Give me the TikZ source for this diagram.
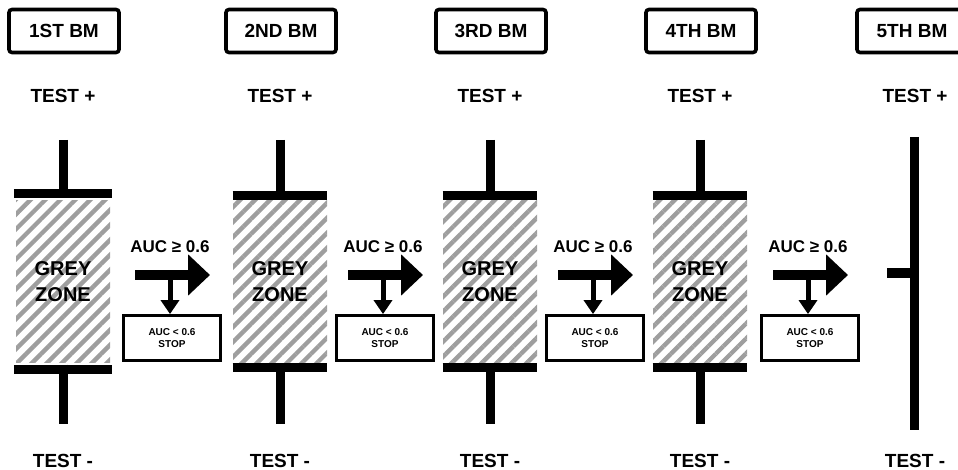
\documentclass[tikz,border=0pt]{standalone}
\usepackage{fontspec}
\setmainfont{Liberation Sans}
\usepackage{tikz}
\usetikzlibrary{arrows.meta,positioning,patterns.meta}

\tikzset{
    bmbox/.style={draw, line width=1.8pt, rounded corners=1.5pt, minimum width=55pt, minimum height=21.5pt, inner sep=0pt, font=\fontsize{9.5}{11}\selectfont\bfseries},
    testlabel/.style={font=\fontsize{9.5}{11}\selectfont\bfseries},
    zone/.style={minimum width=47pt, minimum height=81pt, inner sep=0pt, align=center, font=\fontsize{10}{13}\selectfont\bfseries, pattern={Lines[angle=45,distance=5.3pt,line width=2.2pt]}, pattern color=black!38},
    whisker/.style={line width=4.5pt},
    auclabel/.style={font=\fontsize{8.5}{10}\selectfont\bfseries},
    goarrow/.style={line width=5pt, -{Triangle[length=11pt,width=20pt]}},
    stoparrow/.style={line width=2.5pt, -{Triangle[length=7pt,width=9pt]}},
    stopbox/.style={draw, line width=1.4pt, minimum width=48.5pt, minimum height=22.5pt, inner sep=0pt, align=center, font=\fontsize{5}{6}\selectfont\bfseries}
}

\begin{document}
\begin{tikzpicture}[x=0.5pt, y=-0.5pt]
\useasboundingbox (0,0) rectangle (958,470);
% biomarker columns with grey zone
\foreach \i/\lab/\x/\a in {1/1ST/63/170, 2/2ND/280/383, 3/3RD/490/593, 4/4TH/700/808}{
    \node[bmbox] (bm\i) at (\x+1,31) {\lab\ BM};
    \node[testlabel] (tplus\i) at (\x,96) {TEST +};
    \node[testlabel] (tminus\i) at (\x,461) {TEST -};
    \node[zone] (gz\i) at (\x,281.5) {GREY\\ZONE};
    \coordinate (top\i) at (\x,140);
    \coordinate (bot\i) at (\x,424);
    \draw[whisker] ([yshift=2.25pt]gz\i.north west) -- ([yshift=2.25pt]gz\i.north east);
    \draw[whisker] ([yshift=-2.25pt]gz\i.south west) -- ([yshift=-2.25pt]gz\i.south east);
    \draw[whisker] (top\i) -- (gz\i.north);
    \draw[whisker] (gz\i.south) -- (bot\i);
    % AUC decision
    \node[auclabel] (auc\i) at (\a,247) {AUC ≥ 0.6};
    \coordinate (go\i) at (\a-35,275);
    \coordinate (next\i) at (\a+40,275);
    \coordinate (split\i) at (\a,275);
    \draw[goarrow] (go\i) -- (next\i);
    \node[stopbox] (stop\i) at (\a+2,338) {AUC < 0.6\\STOP};
    \draw[stoparrow] (split\i) -- (split\i |- stop\i.north);
}
% last biomarker
\node[bmbox] (bm5) at (912,31) {5TH BM};
\node[testlabel] (tplus5) at (915,96) {TEST +};
\node[testlabel] (tminus5) at (915,461) {TEST -};
\coordinate (top5) at (914,137);
\coordinate (bot5) at (914,430);
\coordinate (cut5) at (887,273);
\draw[whisker] (top5) -- (bot5);
\draw[line width=5pt] (cut5) -- (cut5 -| top5);
\end{tikzpicture}
\end{document}
